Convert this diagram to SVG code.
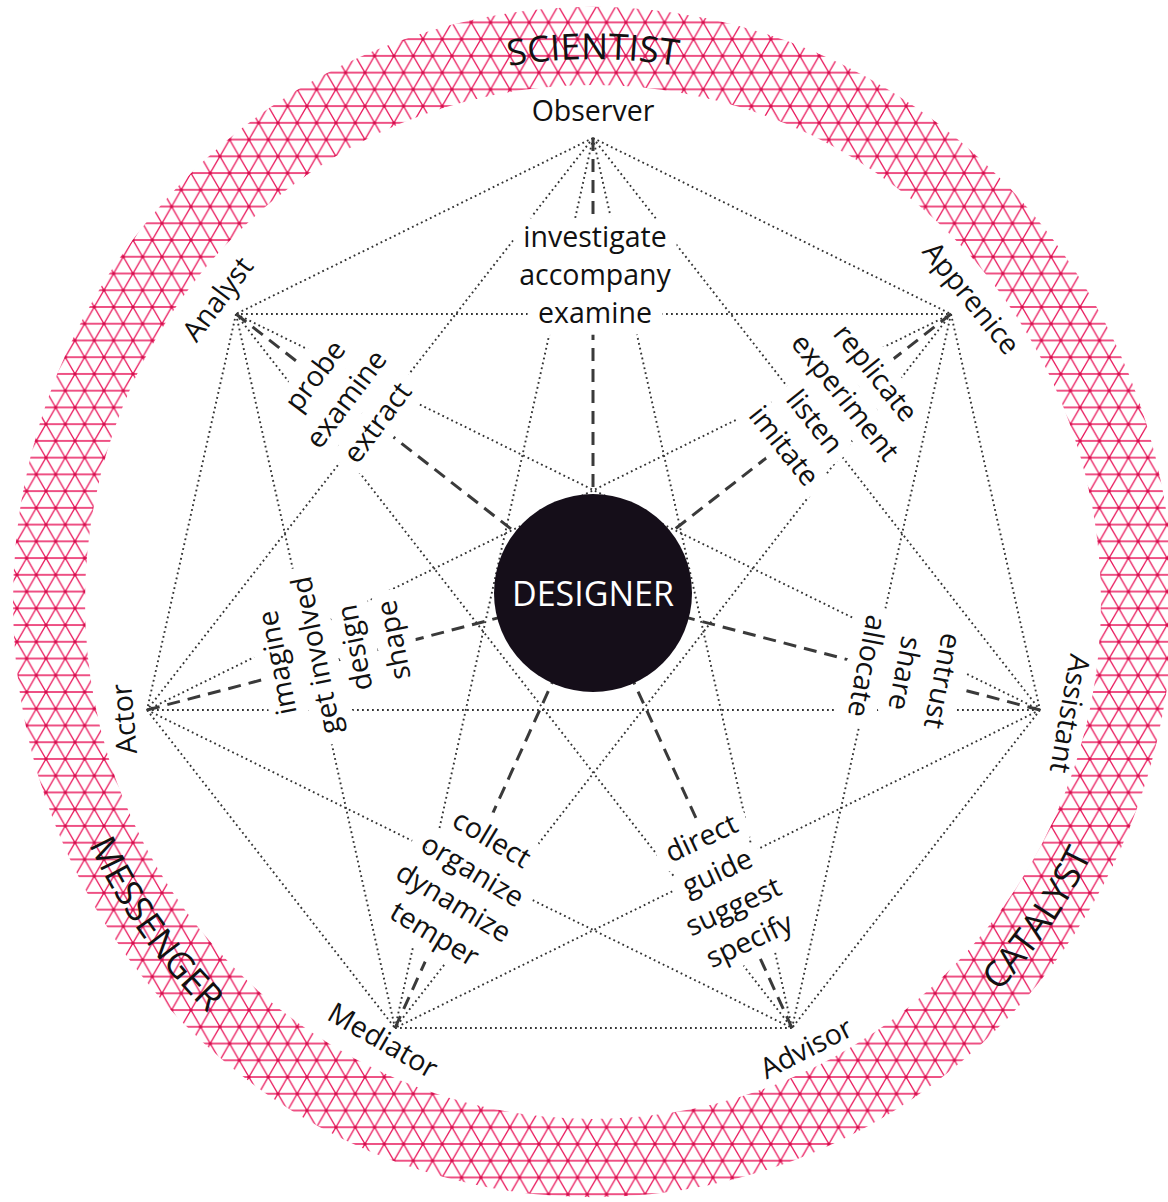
<svg xmlns="http://www.w3.org/2000/svg" xmlns:xlink="http://www.w3.org/1999/xlink" width="1168" height="1202" viewBox="0 0 1168 1202">
<style>
.t{font-family:"Open Sans","Liberation Sans",sans-serif;fill:#111;text-anchor:middle}
.lbl{font-size:28.5px}
.blk{font-size:28.5px}
.ring{font-size:36px}
.ctr{font-size:34px;fill:#fff}
.dot{stroke:#333;stroke-width:1.9;stroke-dasharray:1.8 3.2;fill:none}
.dash{stroke:#3a3a3a;stroke-width:3;stroke-dasharray:13 8;fill:none}
</style>
<defs>
<pattern id="tri" patternUnits="userSpaceOnUse" x="7.3" y="22.4" width="19.33" height="33.48">
<path d="M0 0H19.33M0 16.74H19.33M0 33.48H19.33M0 0L19.33 33.48M19.33 0L0 33.48" stroke="#e9175b" stroke-width="1.35" fill="none"/>
<g fill="#d10f4c"><circle cx="0" cy="0" r="1.6"/><circle cx="19.33" cy="0" r="1.6"/><circle cx="9.665" cy="16.74" r="1.6"/><circle cx="0" cy="33.48" r="1.6"/><circle cx="19.33" cy="33.48" r="1.6"/></g>
</pattern>
<path id="arcTop" d="M62 602A531 543 0 0 1 1124 602"/>
<path id="arcBL" d="M36 602A557 569 0 0 0 593 1171"/>
<path id="arcBR" d="M593 1171A557 569 0 0 0 1150 602"/>
<mask id="gapMask" maskUnits="userSpaceOnUse" x="0" y="0" width="1168" height="1202">
<rect width="1168" height="1202" fill="#fff"/>
<g fill="#000" stroke="#000" stroke-width="24" stroke-linejoin="round">
<use href="#b-observer"/><use href="#b-analyst"/><use href="#b-apprenice"/><use href="#b-actor"/><use href="#b-assistant"/><use href="#b-mediator"/><use href="#b-advisor"/>
</g>
</mask>
</defs>
<rect width="1168" height="1202" fill="#fff"/>
<g id="ring">
<path d="M13 602a580 595 0 1 0 1160 0a580 595 0 1 0 -1160 0ZM85 602a508 517 0 1 0 1016 0a508 517 0 1 0 -1016 0Z" fill="url(#tri)" fill-rule="evenodd"/>
<text class="t ring"><textPath href="#arcTop" startOffset="50%">SCIENTIST</textPath></text>
<text class="t ring"><textPath href="#arcBL" startOffset="40%">MESSENGER</textPath></text>
<text class="t ring"><textPath href="#arcBR" startOffset="61%">CATALYST</textPath></text>
</g>
<g id="connectors" mask="url(#gapMask)">
<line class="dot" x1="593" y1="138" x2="236" y2="314"/>
<line class="dot" x1="593" y1="138" x2="951" y2="314"/>
<line class="dot" x1="593" y1="138" x2="147" y2="710"/>
<line class="dot" x1="593" y1="138" x2="1040" y2="710"/>
<line class="dot" x1="593" y1="138" x2="395" y2="1028"/>
<line class="dot" x1="593" y1="138" x2="792" y2="1028"/>
<line class="dot" x1="236" y1="314" x2="951" y2="314"/>
<line class="dot" x1="236" y1="314" x2="147" y2="710"/>
<line class="dot" x1="236" y1="314" x2="1040" y2="710"/>
<line class="dot" x1="236" y1="314" x2="395" y2="1028"/>
<line class="dot" x1="236" y1="314" x2="792" y2="1028"/>
<line class="dot" x1="951" y1="314" x2="147" y2="710"/>
<line class="dot" x1="951" y1="314" x2="1040" y2="710"/>
<line class="dot" x1="951" y1="314" x2="395" y2="1028"/>
<line class="dot" x1="951" y1="314" x2="792" y2="1028"/>
<line class="dot" x1="147" y1="710" x2="1040" y2="710"/>
<line class="dot" x1="147" y1="710" x2="395" y2="1028"/>
<line class="dot" x1="147" y1="710" x2="792" y2="1028"/>
<line class="dot" x1="1040" y1="710" x2="395" y2="1028"/>
<line class="dot" x1="1040" y1="710" x2="792" y2="1028"/>
<line class="dot" x1="395" y1="1028" x2="792" y2="1028"/>
<line class="dash" x1="593" y1="138" x2="593" y2="593"/>
<line class="dash" x1="236" y1="314" x2="593" y2="593"/>
<line class="dash" x1="951" y1="314" x2="593" y2="593"/>
<line class="dash" x1="147" y1="710" x2="593" y2="593"/>
<line class="dash" x1="1040" y1="710" x2="593" y2="593"/>
<line class="dash" x1="395" y1="1028" x2="593" y2="593"/>
<line class="dash" x1="792" y1="1028" x2="593" y2="593"/>
</g>
<g id="designer">
<circle cx="593" cy="593" r="99" fill="#150e19"/>
<text class="t ctr" x="593" y="606">DESIGNER</text>
</g>
<g id="observer">
<text class="t lbl" x="593" y="121">Observer</text>
<text id="b-observer" class="t blk" transform="translate(595 247)"><tspan x="0" y="0">investigate</tspan><tspan x="0" y="38">accompany</tspan><tspan x="0" y="76">examine</tspan></text>
</g>
<g id="analyst">
<text class="t lbl" transform="translate(225.5 305) rotate(-53)">Analyst</text>
<text id="b-analyst" class="t blk" transform="translate(322.8 381.5) rotate(-53)"><tspan x="0" y="0">probe</tspan><tspan x="0" y="39">examine</tspan><tspan x="0" y="78">extract</tspan></text>
</g>
<g id="apprenice">
<text class="t lbl" transform="translate(963.6 304.3) rotate(51)">Apprenice</text>
<text id="b-apprenice" class="t blk" transform="translate(868 379) rotate(51.4)"><tspan x="0" y="0">replicate</tspan><tspan x="0" y="39">experiment</tspan><tspan x="0" y="78">listen</tspan><tspan x="0" y="117">imitate</tspan></text>
</g>
<g id="actor">
<text class="t lbl" transform="translate(134 718) rotate(-95)">Actor</text>
<text id="b-actor" class="t blk" transform="translate(286.8 660.9) rotate(-101)"><tspan x="0" y="0">imagine</tspan><tspan x="0" y="39.5">get involved</tspan><tspan x="0" y="79">design</tspan><tspan x="0" y="118.5">shape</tspan></text>
</g>
<g id="assistant">
<text class="t lbl" transform="translate(1060 712) rotate(100)">Assistant</text>
<text id="b-assistant" class="t blk" transform="translate(933 679) rotate(101)"><tspan x="0" y="0">entrust</tspan><tspan x="0" y="38.5">share</tspan><tspan x="0" y="77">allocate</tspan></text>
</g>
<g id="mediator">
<text class="t lbl" transform="translate(378 1049) rotate(30)">Mediator</text>
<text id="b-mediator" class="t blk" transform="translate(486.7 847.2) rotate(31)"><tspan x="0" y="0">collect</tspan><tspan x="0" y="37">organize</tspan><tspan x="0" y="74">dynamize</tspan><tspan x="0" y="111">temper</tspan></text>
</g>
<g id="advisor">
<text class="t lbl" transform="translate(810.6 1057) rotate(-27)">Advisor</text>
<text id="b-advisor" class="t blk" transform="translate(705.5 846.8) rotate(-25)"><tspan x="0" y="0">direct</tspan><tspan x="0" y="37.7">guide</tspan><tspan x="0" y="75.4">suggest</tspan><tspan x="0" y="113">specify</tspan></text>
</g>
</svg>
